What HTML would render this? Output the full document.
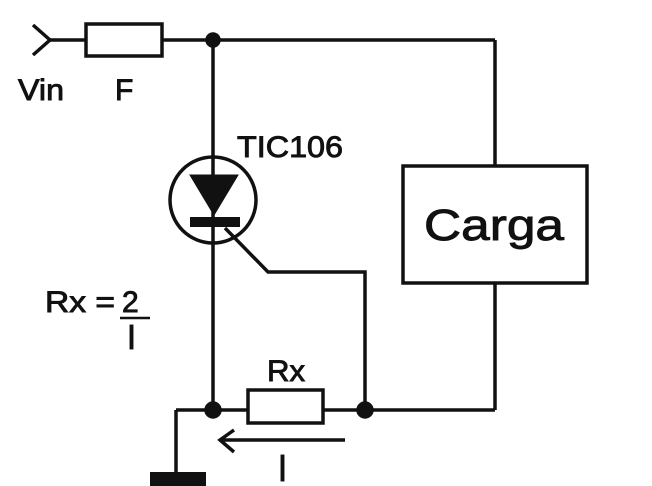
<!DOCTYPE html>
<html><head><style>body{margin:0;background:#fff}svg{display:block}</style></head><body>
<svg width="652" height="486" viewBox="0 0 652 486" xmlns="http://www.w3.org/2000/svg" font-family="Liberation Sans, sans-serif" fill="none" stroke="#111" stroke-width="3.5">
<polyline points="33,25 50,40 33,55"/>
<line x1="50" y1="40" x2="495" y2="40"/>
<rect x="86" y="24" width="76" height="32" fill="#fff"/>
<circle cx="213" cy="40" r="6" fill="#111"/>
<line x1="213" y1="40" x2="213" y2="410"/>
<circle cx="213" cy="200" r="43"/>
<polygon points="190,175 238,175 214,215" fill="#111" stroke-width="1"/>
<rect x="190" y="217" width="50" height="10" fill="#111" stroke="none"/>
<polyline points="225,228 268,272 365,272 365,410"/>
<line x1="495" y1="40" x2="495" y2="410"/>
<rect x="403" y="166" width="184" height="117" fill="#fff"/>
<line x1="176" y1="410" x2="495" y2="410"/>
<rect x="248" y="390" width="75" height="33" fill="#fff"/>
<circle cx="213" cy="410" r="7" fill="#111"/>
<circle cx="365" cy="410" r="7" fill="#111"/>
<line x1="176" y1="410" x2="176" y2="472"/>
<rect x="150" y="472" width="56" height="14" fill="#111" stroke="none"/>
<line x1="220" y1="440" x2="345" y2="440"/>
<polyline points="234,430 220,440 234,452"/>
<line x1="120" y1="318" x2="150" y2="318" stroke-width="2.5"/>
<g fill="#111" stroke="#111" stroke-width="0.9" font-size="30">
<text x="18" y="100" textLength="46" lengthAdjust="spacingAndGlyphs">Vin</text>
<text x="115" y="100">F</text>
<text x="237" y="157" font-size="30" textLength="106" lengthAdjust="spacingAndGlyphs">TIC106</text>
<text x="424" y="240" font-size="44" textLength="140" lengthAdjust="spacingAndGlyphs">Carga</text>
<text x="45" y="312" textLength="70" lengthAdjust="spacingAndGlyphs">Rx =</text>
<text x="122" y="312">2</text>
<rect x="130" y="325" width="3" height="24"/>
<text x="267" y="381" textLength="38" lengthAdjust="spacingAndGlyphs">Rx</text>
<rect x="281" y="455" width="3" height="26"/>
</g>
</svg>
</body></html>
